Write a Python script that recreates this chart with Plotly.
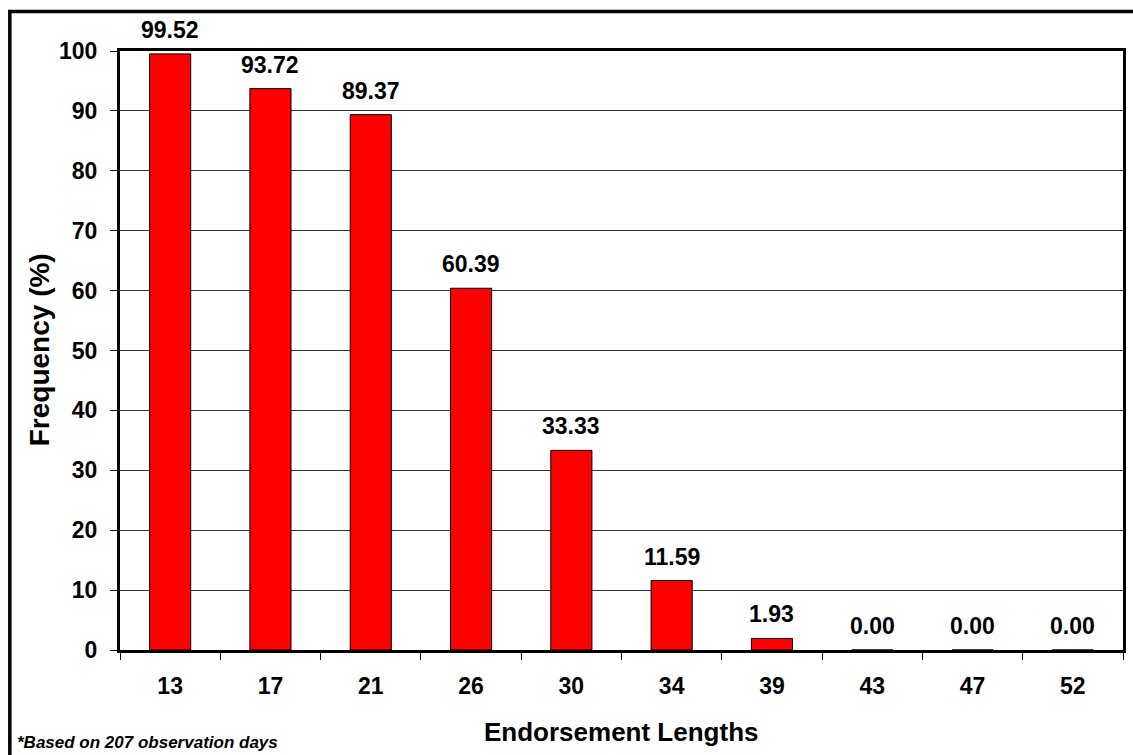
import plotly.graph_objects as go

categories = ["13", "17", "21", "26", "30", "34", "39", "43", "47", "52"]
frequency = [99.52, 93.72, 89.37, 60.39, 33.33, 11.59, 1.93, 0.00, 0.00, 0.00]
y_ticks = [0, 10, 20, 30, 40, 50, 60, 70, 80, 90, 100]

FONT = "Liberation Sans, Arial, sans-serif"

fig = go.Figure()
fig.add_trace(go.Bar(
    x=categories, y=frequency,
    marker=dict(color="#FF0000", line=dict(color="#000000", width=1)),
    hoverinfo="x+y",
))

annotations = []
for i, v in enumerate(frequency):
    annotations.append(dict(
        x=i, y=v, xref="x", yref="y", text=f"<b>{v:.2f}</b>",
        showarrow=False, yanchor="bottom", yshift=9,
        font=dict(family=FONT, size=23, color="#000000"),
    ))

L, R, T, B = 120, 7, 51, 105
W, H = 1133, 755
pw = W - L - R
ph = H - T - B

def px_x(x):
    return (x - L) / pw

def px_y(y):
    return (H - B - y) / ph

annotations.append(dict(
    x=px_x(622), y=px_y(732), xref="paper", yref="paper",
    text="<b>Endorsement Lengths</b>", showarrow=False,
    xanchor="center", yanchor="middle",
    font=dict(family=FONT, size=26, color="#000000"),
))
annotations.append(dict(
    x=px_x(39), y=px_y(350), xref="paper", yref="paper",
    text="<b>Frequency (%)</b>", showarrow=False, textangle=-90,
    xanchor="center", yanchor="middle",
    font=dict(family=FONT, size=28, color="#000000"),
))
annotations.append(dict(
    x=px_x(15), y=px_y(742), xref="paper", yref="paper",
    text="<b><i>*Based on 207 observation days</i></b>", showarrow=False,
    xanchor="left", yanchor="middle",
    font=dict(family=FONT, size=17, color="#000000"),
))

shapes = [dict(
    type="rect", xref="paper", yref="paper",
    x0=px_x(9.5), x1=px_x(1145), y0=px_y(770), y1=px_y(11.5),
    line=dict(color="#000000", width=3.5), fillcolor="rgba(0,0,0,0)",
    layer="below",
)]

fig.update_layout(
    width=W, height=H,
    margin=dict(l=L, r=R, t=T, b=B, pad=0),
    paper_bgcolor="#FFFFFF", plot_bgcolor="#FFFFFF",
    bargap=0.59,
    showlegend=False,
    annotations=annotations,
    shapes=shapes,
    font=dict(family=FONT, color="#000000"),
    xaxis=dict(
        type="category",
        range=[-0.5, len(categories) - 0.5],
        tickson="boundaries",
        ticks="outside", ticklen=7, tickwidth=1, tickcolor="#000000",
        showgrid=False,
        showline=True, linecolor="#000000", linewidth=3, mirror=True,
        tickfont=dict(family=FONT, size=23, color="#000000"),
        tickprefix="<b>", ticksuffix="</b>",
        tickangle=0,
        ticklabelstandoff=13,
    ),
    yaxis=dict(
        range=[0, 100],
        tickvals=y_ticks,
        ticktext=[f"<b>{t}</b>" for t in y_ticks],
        ticks="outside", ticklen=7, tickwidth=1, tickcolor="#000000",
        showgrid=True, gridcolor="#333333", gridwidth=1,
        showline=True, linecolor="#000000", linewidth=3, mirror=True,
        zeroline=False,
        tickfont=dict(family=FONT, size=23, color="#000000"),
        ticklabelstandoff=8,
    ),
)

fig.write_html("out.html")
